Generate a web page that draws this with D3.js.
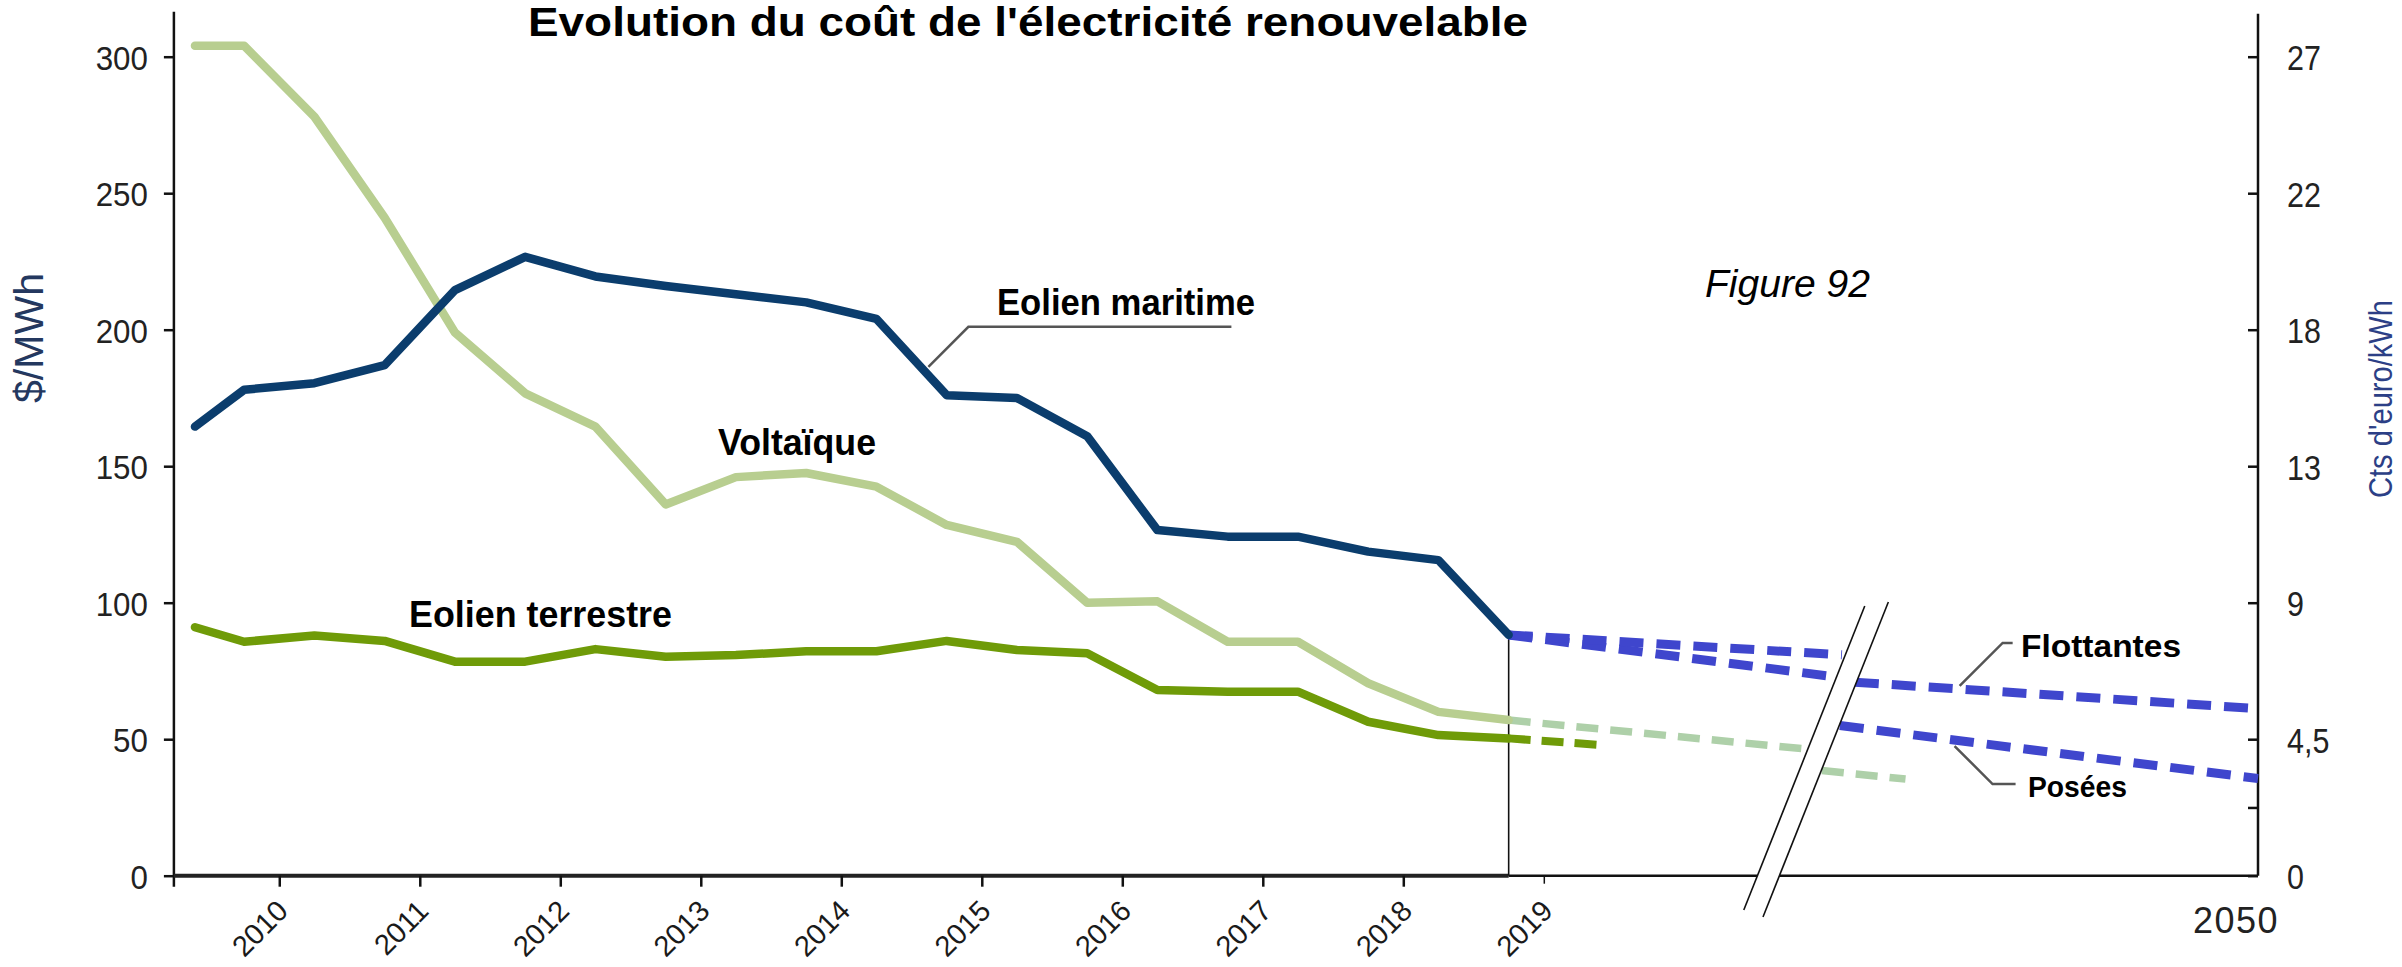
<!DOCTYPE html>
<html><head><meta charset="utf-8">
<script src="https://cdn.jsdelivr.net/npm/d3@7"></script>
<style>
html,body{margin:0;padding:0;background:#fff;}
svg{display:block;}
</style></head><body>
<svg id="chart" width="2402" height="967"></svg>
<script>
// ---------- DATA ----------
const periods = [2009.4, 2009.75, 2010.25, 2010.75, 2011.25, 2011.75, 2012.25, 2012.75, 2013.25, 2013.75,
                 2014.25, 2014.75, 2015.25, 2015.75, 2016.25, 2016.75, 2017.25, 2017.75, 2018.25, 2018.75];
const eolienMaritime  = [164.5, 178, 180.4, 187, 214.5, 226.7, 219.5, 216, 213, 210,
                         204, 176, 175, 161, 126.6, 124.2, 124.2, 118.7, 115.6, 88.2];
const voltaique       = [304, 304, 278, 241, 199, 176.7, 164.5, 136, 146, 147.5,
                         142.5, 128.5, 122.3, 100, 100.5, 85.7, 85.7, 70.5, 60, 57];
const eolienTerrestre = [91, 85.7, 88, 86, 78.4, 78.4, 83, 80.2, 80.8, 82.2,
                         82.2, 86, 82.7, 81.5, 68, 67.4, 67.4, 56.4, 51.5, 50.3];

// projections (before / after the axis break)
const terrestreProjYears  = [2018.75, 2021.76];  const terrestreProj  = [50.3, 47.7];
const voltaiqueProjYears  = [2018.75, 2030.4];   const voltaiqueProj  = [57, 46.4];
const voltaiqueProj2Years = [2031.07, 2034.7];   const voltaiqueProj2 = [38.5, 35.4];
const flottantesNearYears = [2018.75, 2031.94];  const flottantesNear = [88.2, 80.9];
const poseesNearYears     = [2018.75, 2031.5];   const poseesNear     = [88.2, 73];
const flottantesFarYears  = [2032.5, 2050];      const flottantesFar  = [70.9, 61.2];
const poseesFarYears      = [2031.85, 2050];     const poseesFar      = [55, 35.6];

const tickYears = [2010, 2011, 2012, 2013, 2014, 2015, 2016, 2017, 2018, 2019];
const endYear = 2050;
const endYearLabel = "2050";
const leftTicks = [0, 50, 100, 150, 200, 250, 300];
const rightTickVals   = [0, 25, 50, 100, 150, 200, 250, 300];
const rightTickLabels = ["0", "", "4,5", "9", "13", "18", "22", "27"];
const breakYear = 2028.75;

const titleText = "Evolution du coût de l'électricité renouvelable";
const leftTitle = "$/MWh";
const rightTitle = "Cts d'euro/kWh";

// ---------- SETUP ----------
const FONT = '"Liberation Sans", Arial, sans-serif';
const svg = d3.select("#chart");
const x = d3.scaleLinear().domain([2009.25, 2019, endYear]).range([173.9, 1543.8, 2258]);
const y = d3.scaleLinear().domain([0, 300]).range([875.7, 56.7]);

function squeeze(sel, factor) {
  sel.each(function () {
    const w = this.getComputedTextLength();
    if (w > 0) d3.select(this).attr("textLength", w * factor).attr("lengthAdjust", "spacingAndGlyphs");
  });
}

// ---------- AXES ----------
const x0 = x(2009.25), xEnd = x(endYear);
svg.append("line").attr("x1", x0).attr("x2", x0).attr("y1", y(300) - 45).attr("y2", y(0) + 11)
  .attr("stroke", "#111").attr("stroke-width", 2.5);
svg.append("line").attr("x1", xEnd).attr("x2", xEnd).attr("y1", y(300) - 43).attr("y2", y(0))
  .attr("stroke", "#111").attr("stroke-width", 2.5);
svg.append("line").attr("x1", x0).attr("x2", x(2018.75)).attr("y1", y(0)).attr("y2", y(0))
  .attr("stroke", "#222").attr("stroke-width", 4);
svg.append("line").attr("x1", x(2018.75)).attr("x2", xEnd).attr("y1", y(0)).attr("y2", y(0))
  .attr("stroke", "#111").attr("stroke-width", 2.5);

const gL = svg.append("g").attr("transform", `translate(${x0},0)`)
  .call(d3.axisLeft(y).tickValues(leftTicks).tickSize(10).tickPadding(16).tickSizeOuter(0));
gL.select(".domain").remove();
gL.selectAll(".tick line").attr("stroke", "#111").attr("stroke-width", 2.5);
gL.selectAll("text").attr("font-size", 34).attr("font-family", FONT).attr("fill", "#222").attr("dy", "0.37em");
squeeze(gL.selectAll("text"), 0.92);

const gR = svg.append("g").attr("transform", `translate(${xEnd},0)`)
  .call(d3.axisRight(y).tickValues(rightTickVals).tickFormat((d, i) => rightTickLabels[i])
    .tickSize(-10).tickPadding(29).tickSizeOuter(0));
gR.select(".domain").remove();
gR.selectAll(".tick line").attr("stroke", "#111").attr("stroke-width", 2.5);
gR.selectAll("text").attr("font-size", 35).attr("font-family", FONT).attr("fill", "#222").attr("dy", "0.37em");
squeeze(gR.selectAll("text"), 0.87);

const gB = svg.append("g").attr("transform", `translate(0,${y(0)})`)
  .call(d3.axisBottom(x).tickValues(tickYears).tickFormat(d3.format("d")).tickSize(11).tickSizeOuter(0));
gB.select(".domain").remove();
gB.selectAll(".tick line").attr("stroke", "#111").attr("stroke-width", 2.5);
gB.selectAll(".tick").filter(d => d === 2019).select("line").attr("stroke-width", 1.5).attr("y2", 8);
gB.selectAll("text").attr("x", 0).attr("y", 0).attr("dy", null).attr("text-anchor", "end")
  .attr("transform", "translate(10,37) rotate(-45)")
  .attr("font-size", 29).attr("font-family", FONT).attr("fill", "#1a1a1a");

svg.append("text").attr("x", xEnd - 22).attr("y", 933).attr("text-anchor", "middle")
  .attr("font-family", FONT).attr("font-size", 36).attr("fill", "#222")
  .attr("letter-spacing", 1.5).text(endYearLabel);

// axis titles
svg.append("text").attr("transform", `translate(43,338) rotate(-90)`).attr("text-anchor", "middle")
  .attr("font-family", FONT).attr("font-size", 41).attr("fill", "#24385f")
  .attr("textLength", 130).attr("lengthAdjust", "spacingAndGlyphs").text(leftTitle);
svg.append("text").attr("transform", `translate(2392,399) rotate(-90)`).attr("text-anchor", "middle")
  .attr("font-family", FONT).attr("font-size", 34).attr("fill", "#2c3f86")
  .attr("textLength", 198).attr("lengthAdjust", "spacingAndGlyphs").text(rightTitle);

// vertical marker at last historical point
svg.append("line").attr("x1", x(2018.75)).attr("x2", x(2018.75))
  .attr("y1", y(eolienMaritime[eolienMaritime.length - 1])).attr("y2", y(0))
  .attr("stroke", "#111").attr("stroke-width", 1.6);

// ---------- SERIES ----------
const line = d3.line().x(d => x(d[0])).y(d => y(d[1]));
function draw(xs, vs, color, width, dash) {
  svg.append("path").datum(d3.zip(xs, vs)).attr("d", line)
    .attr("fill", "none").attr("stroke", color).attr("stroke-width", width)
    .attr("stroke-linejoin", "round").attr("stroke-linecap", dash ? "butt" : "round")
    .attr("stroke-dasharray", dash || null);
}
const C_MAR = "#0b3d6d", C_VOL = "#b8ce90", C_TER = "#6f9b08";
const C_PROJ_BLUE = "#3f46cd", C_PROJ_VOL = "#aed0a9", C_PROJ_TER = "#6f9b08";

draw(terrestreProjYears, terrestreProj, C_PROJ_TER, 8, "22,11");
draw(voltaiqueProjYears, voltaiqueProj, C_PROJ_VOL, 7.5, "22,12");
draw(voltaiqueProj2Years, voltaiqueProj2, C_PROJ_VOL, 7.5, "22,12");
draw(poseesNearYears, poseesNear, C_PROJ_BLUE, 9, "24,13");
draw(flottantesNearYears, flottantesNear, C_PROJ_BLUE, 9, "24,13");
draw(flottantesFarYears, flottantesFar, C_PROJ_BLUE, 9, "24,13");
draw(poseesFarYears, poseesFar, C_PROJ_BLUE, 9, "24,13");

draw(periods, voltaique, C_VOL, 8.5);
draw(periods, eolienTerrestre, C_TER, 8.5);
draw(periods, eolienMaritime, C_MAR, 8.5);

// ---------- AXIS BREAK ----------
const bx = x(breakYear), by = y(0), slope = 0.398;
const bxA = bx - 11, bxB = bx + 11;
const ptA = yy => [bxA + (by - yy) * slope, yy];
const ptB = yy => [bxB + (by - yy) * slope, yy];
svg.append("path")
  .attr("d", "M" + [ptA(600), ptB(600), ptB(920), ptA(920)].map(p => p.join(",")).join("L") + "Z")
  .attr("fill", "#fff");
svg.append("line").attr("x1", ptA(606)[0]).attr("y1", 606).attr("x2", ptA(910)[0]).attr("y2", 910)
  .attr("stroke", "#111").attr("stroke-width", 1.6);
svg.append("line").attr("x1", ptB(602)[0]).attr("y1", 602).attr("x2", ptB(917)[0]).attr("y2", 917)
  .attr("stroke", "#111").attr("stroke-width", 1.6);

// ---------- ANNOTATIONS ----------
function leader(year, val, dx, dy, len) {
  const sx = x(year), sy = y(val);
  svg.append("path").attr("d", `M${sx},${sy}L${sx + dx},${sy + dy}L${sx + dx + len},${sy + dy}`)
    .attr("fill", "none").attr("stroke", "#555").attr("stroke-width", 2.5);
}
leader(2014.62, 186.4, 40, -40, 263);
leader(2037.05, 69.5, 43, -43, 10);
leader(2036.83, 47.5, 38, 38, 23);

function label(txt, px, py, size, width, opts = {}) {
  svg.append("text").attr("x", px).attr("y", py).attr("font-family", FONT)
    .attr("font-size", size).attr("font-weight", opts.italic ? "normal" : "bold")
    .attr("font-style", opts.italic ? "italic" : "normal").attr("fill", "#000")
    .attr("textLength", width).attr("lengthAdjust", "spacingAndGlyphs").text(txt);
}
label(titleText, 528, 36, 40, 1000);
label("Eolien maritime", 997, 315, 37, 258);
label("Voltaïque", 718, 455, 37, 158);
label("Eolien terrestre", 409, 627, 37, 263);
label("Figure 92", 1705, 297, 39, 165, { italic: true });
label("Flottantes", 2021, 657, 32, 160);
label("Posées", 2028, 797, 29, 99);
</script>
</body></html>
